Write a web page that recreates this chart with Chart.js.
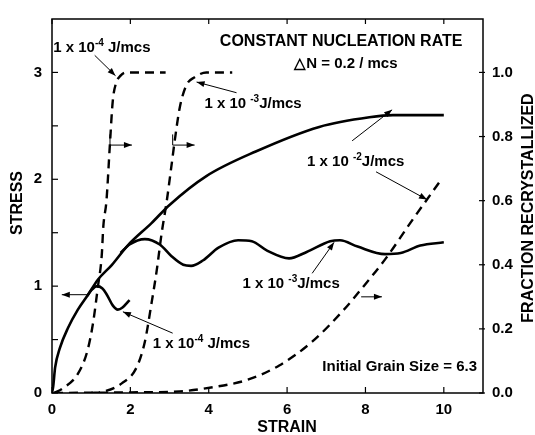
<!DOCTYPE html>
<html><head><meta charset="utf-8">
<script src="https://cdn.jsdelivr.net/npm/chart.js@4"></script>
<style>html,body{margin:0;padding:0;background:#fff}canvas{display:block}</style>
</head><body>
<canvas id="c" width="535" height="435"></canvas>
<script>
// ---- data (strain, stress / fraction recrystallized) ----
const xTickValues = [0, 2, 4, 6, 8, 10];
const yTickValues = [0, 1, 2, 3];
const yMinorValues = [0.5, 1.5, 2.5];
const y2TickValues = [0.0, 0.2, 0.4, 0.6, 0.8, 1.0];

// stress, 1e-2 J/mcs (monotonic)
const strainMain = [0, 0.03, 0.08, 0.2, 0.41, 0.66, 0.92, 1.17, 1.53, 1.93, 2.54, 3.0, 3.94, 5.2, 6.82, 8.1, 8.7, 10];
const stressMain = [0, 0.06, 0.24, 0.42, 0.61, 0.78, 0.92, 1.06, 1.2, 1.38, 1.59, 1.76, 2.03, 2.26, 2.49, 2.58, 2.6, 2.6];
// stress, 1e-3 J/mcs (oscillating)
const strainOsc = [1.75, 1.98, 2.37, 2.75, 3.05, 3.35, 3.55, 3.85, 4.25, 4.75, 5.1, 5.5, 6.05, 6.5, 7.1, 7.35, 7.8, 8.5, 8.9, 9.4, 10];
const stressOsc = [1.31, 1.39, 1.44, 1.39, 1.28, 1.2, 1.19, 1.24, 1.36, 1.43, 1.42, 1.33, 1.26, 1.32, 1.42, 1.43, 1.37, 1.3, 1.31, 1.38, 1.41];
// stress, 1e-4 J/mcs
const strainLow = [0.9, 1.0, 1.15, 1.28, 1.4, 1.55, 1.68, 1.8, 1.98];
const stressLow = [0.91, 0.96, 1.0, 0.98, 0.92, 0.82, 0.78, 0.8, 0.87];
// fraction recrystallized, 1e-4 J/mcs
const strainFrac4 = [0.05, 0.28, 0.66, 0.9, 1.05, 1.17, 1.27, 1.31, 1.39, 1.48, 1.55, 1.63, 1.75, 1.9, 2.9];
const frac4 = [0, 0.015, 0.06, 0.13, 0.22, 0.33, 0.43, 0.52, 0.6, 0.78, 0.91, 0.965, 0.99, 1.0, 1.0];
// fraction recrystallized, 1e-3 J/mcs
const strainFrac3 = [1.0, 1.27, 1.78, 2.16, 2.37, 2.54, 2.67, 2.8, 2.93, 3.05, 3.13, 3.26, 3.43, 3.64, 3.94, 4.6];
const frac3 = [0, 0.003, 0.03, 0.08, 0.16, 0.28, 0.38, 0.5, 0.6, 0.71, 0.785, 0.89, 0.96, 0.985, 1.0, 1.0];
// fraction recrystallized, 1e-2 J/mcs
const strainFrac2 = [0.05, 2.0, 3.26, 4.1, 4.96, 5.8, 6.64, 7.45, 7.9, 8.52, 9.2, 9.9];
const frac2 = [0, 0.002, 0.005, 0.018, 0.04, 0.086, 0.16, 0.26, 0.325, 0.42, 0.54, 0.66];

const pts = (xs, ys) => xs.map((v, i) => ({x: v, y: ys[i]}));

// ---- annotations (data coordinates: strain, stress) ----
const textLabels = [
  {x: 0.03, y: 3.19, parts: [['1 x 10', 15, 0], ['-4', 10, -6], [' J/mcs', 15, 0]]},
  {x: 3.89, y: 2.67, parts: [['1 x 10 ', 15, 0], ['-3', 10, -6], ['J/mcs', 15, 0]]},
  {x: 6.51, y: 2.12, parts: [['1 x 10 ', 15, 0], ['-2', 10, -6], ['J/mcs', 15, 0]]},
  {x: 4.86, y: 0.98, parts: [['1 x 10 ', 15, 0], ['-3', 10, -6], ['J/mcs', 15, 0]]},
  {x: 2.57, y: 0.42, parts: [['1 x 10', 15, 0], ['-4', 10, -6], [' J/mcs', 15, 0]]},
  {x: 6.9, y: 0.21, parts: [['Initial Grain Size = 6.3', 15, 0]]}
];
const centerLabels = [
  {x: 7.38, y: 3.25, text: 'CONSTANT NUCLEATION RATE', size: 16},
  {x: 7.5, y: 3.04, text: '\u25B3N = 0.2 / mcs', size: 15}
];
// polyline arrows; last point is the head
const arrows = [
  [[1.09, 3.16], [1.62, 2.97]],
  [[4.71, 2.81], [3.69, 2.91]],
  [[7.66, 2.36], [8.68, 2.65]],
  [[8.27, 2.07], [9.57, 1.81]],
  [[6.64, 1.12], [7.2, 1.41]],
  [[3.08, 0.56], [1.81, 0.76]],
  [[0.89, 0.92], [0.25, 0.92]],
  [[1.48, 2.42], [1.48, 2.32], [2.04, 2.32]],
  [[3.08, 2.42], [3.08, 2.32], [3.64, 2.32]],
  [[7.89, 0.9], [8.42, 0.9]]
];

const FONT = '"Liberation Sans", Arial, Helvetica, sans-serif';

const deco = {
  id: 'deco',
  afterDatasetsDraw(chart) {
    const {ctx, chartArea: a, scales: {x, y, y2}} = chart;
    const X = v => x.getPixelForValue(v), Y = v => y.getPixelForValue(v);
    ctx.save();
    ctx.strokeStyle = '#000'; ctx.fillStyle = '#000';
    // frame
    ctx.lineWidth = 1.5;
    ctx.strokeRect(a.left, a.top, a.right - a.left, a.bottom - a.top);
    const seg = (x1, y1, x2, y2_) => { ctx.beginPath(); ctx.moveTo(x1, y1); ctx.lineTo(x2, y2_); ctx.stroke(); };
    ctx.lineWidth = 1.2;
    xTickValues.forEach(v => { const p = X(v); seg(p, a.bottom, p, a.bottom - 6); seg(p, a.top, p, a.top + 5); });
    yTickValues.concat(yMinorValues).forEach(v => { const p = Y(v); seg(a.left, p, a.left + 6, p); });
    y2TickValues.forEach(v => { const p = y2.getPixelForValue(v); seg(a.right - 4, p, a.right + 2, p); });

    // arrows
    ctx.lineWidth = 1;
    arrows.forEach(path => {
      const p = path.map(([sx, sy]) => [X(sx), Y(sy)]);
      ctx.beginPath(); ctx.moveTo(p[0][0], p[0][1]);
      for (let i = 1; i < p.length; i++) ctx.lineTo(p[i][0], p[i][1]);
      ctx.stroke();
      const [hx, hy] = p[p.length - 1], [tx, ty] = p[p.length - 2];
      const ang = Math.atan2(hy - ty, hx - tx), L = 8, W = 3;
      ctx.beginPath();
      ctx.moveTo(hx, hy);
      ctx.lineTo(hx - L * Math.cos(ang) + W * Math.sin(ang), hy - L * Math.sin(ang) - W * Math.cos(ang));
      ctx.lineTo(hx - L * Math.cos(ang) - W * Math.sin(ang), hy - L * Math.sin(ang) + W * Math.cos(ang));
      ctx.closePath(); ctx.fill();
    });

    // labels
    ctx.textBaseline = 'alphabetic';
    ctx.textAlign = 'left';
    textLabels.forEach(l => {
      let cx = X(l.x); const by = Y(l.y);
      l.parts.forEach(([t, s, dy]) => {
        ctx.font = `bold ${s}px ${FONT}`;
        ctx.fillText(t, cx, by + dy);
        cx += ctx.measureText(t).width;
      });
    });
    ctx.textAlign = 'center';
    centerLabels.forEach(l => {
      ctx.font = `bold ${l.size}px ${FONT}`;
      ctx.fillText(l.text, X(l.x), Y(l.y));
    });

    // axis titles
    ctx.font = `bold 16px ${FONT}`;
    ctx.textBaseline = 'alphabetic';
    ctx.fillText('STRAIN', X(6), a.bottom + 39);
    ctx.textBaseline = 'middle';
    ctx.save(); ctx.translate(18, a.top + 184); ctx.rotate(-Math.PI / 2);
    ctx.fillText('STRESS', 0, 0); ctx.restore();
    ctx.save(); ctx.translate(529, a.top + 189); ctx.rotate(-Math.PI / 2);
    ctx.fillText('FRACTION RECRYSTALLIZED', 0, 0); ctx.restore();
    ctx.restore();
  }
};

const solid = {borderColor: '#000', borderWidth: 2.6, pointRadius: 0, fill: false, cubicInterpolationMode: 'monotone'};
const dashed = {borderColor: '#000', borderWidth: 2.4, borderDash: [9, 6], pointRadius: 0, fill: false, cubicInterpolationMode: 'monotone', yAxisID: 'y2'};

new Chart(document.getElementById('c'), {
  type: 'line',
  data: {
    datasets: [
      Object.assign({label: 'Stress 1e-2', data: pts(strainMain, stressMain), yAxisID: 'y'}, solid),
      Object.assign({label: 'Stress 1e-3', data: pts(strainOsc, stressOsc), yAxisID: 'y'}, solid),
      Object.assign({label: 'Stress 1e-4', data: pts(strainLow, stressLow), yAxisID: 'y'}, solid),
      Object.assign({label: 'Frac 1e-4', data: pts(strainFrac4, frac4)}, dashed),
      Object.assign({label: 'Frac 1e-3', data: pts(strainFrac3, frac3)}, dashed),
      Object.assign({label: 'Frac 1e-2', data: pts(strainFrac2, frac2)}, dashed)
    ]
  },
  options: {
    responsive: false,
    animation: false,
    layout: {padding: {top: 13, left: 0, right: 0, bottom: 0}},
    plugins: {legend: {display: false}, tooltip: {enabled: false}},
    scales: {
      x: {
        type: 'linear', min: 0, max: 11,
        afterBuildTicks: s => { s.ticks = xTickValues.map(v => ({value: v})); },
        afterFit: s => { s.height = 42; },
        grid: {display: false, drawTicks: false}, border: {display: false},
        ticks: {color: '#000', padding: 8, font: {family: FONT, size: 15, weight: 'bold'}, maxRotation: 0}
      },
      y: {
        type: 'linear', position: 'left', min: 0, max: 3.5,
        afterBuildTicks: s => { s.ticks = yTickValues.map(v => ({value: v})); },
        afterFit: s => { s.width = 52; },
        grid: {display: false, drawTicks: false}, border: {display: false},
        ticks: {color: '#000', padding: 10, font: {family: FONT, size: 15, weight: 'bold'}}
      },
      y2: {
        type: 'linear', position: 'right', min: 0, max: 3.5 / 3,
        afterBuildTicks: s => { s.ticks = y2TickValues.map(v => ({value: v})); },
        afterFit: s => { s.width = 52; },
        grid: {display: false, drawTicks: false}, border: {display: false},
        ticks: {color: '#000', padding: 9, font: {family: FONT, size: 15, weight: 'bold'}, callback: v => Number(v).toFixed(1)}
      }
    }
  },
  plugins: [deco]
});
</script>
</body></html>
